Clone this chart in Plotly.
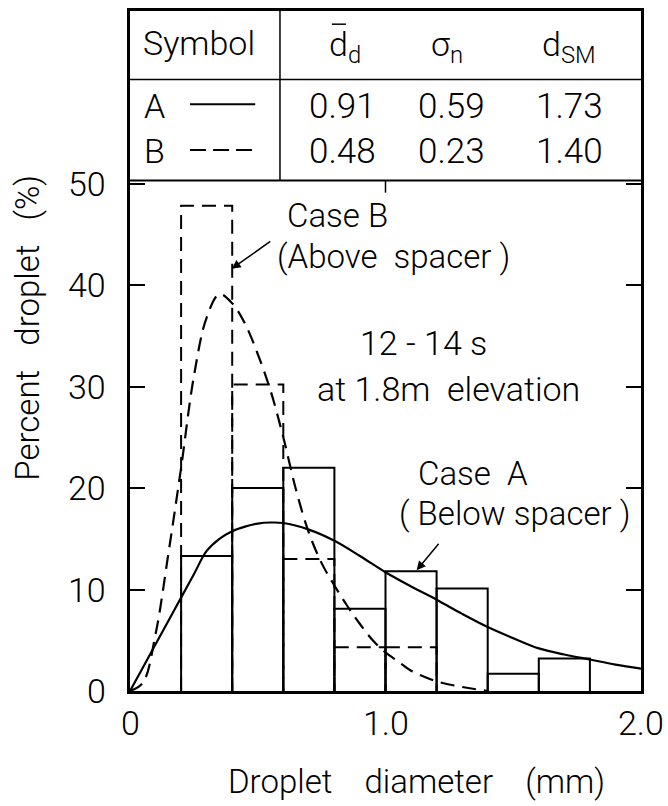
import plotly.graph_objects as go

# Histogram bin edges (mm)
bin_edges = [0.2, 0.4, 0.6, 0.8, 1.0, 1.2, 1.4, 1.6, 1.8, 2.0]
# Case A (below spacer): percent of droplets per bin, first bin 0.2-0.4 mm
case_a_pct = [13.3, 20.0, 22.0, 8.1, 11.8, 10.1, 1.7, 3.2]
# Case B (above spacer): percent of droplets per bin, first bin 0.2-0.4 mm
case_b_pct = [47.8, 30.2, 13.0, 4.3, 4.3]

# Fitted distribution, case A
fit_a_x = [0, 0.05, 0.1, 0.15, 0.2, 0.25, 0.3, 0.35, 0.4, 0.45, 0.5, 0.55, 0.6,
           0.7, 0.8, 0.9, 1.0, 1.1, 1.2, 1.3, 1.4, 1.5, 1.6, 1.7, 1.8, 1.9, 2.0]
fit_a_y = [0, 2.3, 4.6, 6.9, 9.2, 11.5, 13.8, 15.0, 15.75, 16.2, 16.5, 16.6, 16.55,
           15.9, 14.8, 13.3, 11.7, 10.3, 9.0, 7.6, 6.3, 5.2, 4.2, 3.6, 3.1, 2.6, 2.2]

# Fitted distribution, case B
fit_b_x = [0, 0.05, 0.1, 0.15, 0.2, 0.25, 0.3, 0.35, 0.4, 0.45, 0.5, 0.55, 0.6,
           0.65, 0.7, 0.75, 0.8, 0.85, 0.9, 0.95, 1.0, 1.05, 1.1, 1.2, 1.3, 1.4]
fit_b_y = [0, 0.8, 5.6, 13.5, 22.0, 31.0, 36.8, 39.1, 38.2, 36.2, 33.2, 29.6, 25.0,
           19.8, 15.6, 12.6, 10.4, 8.4, 6.6, 5.0, 3.8, 2.9, 2.0, 0.95, 0.4, 0.0]

# Summary table
symbols = ["A", "B"]
mean_d = [0.91, 0.48]
sigma_n = [0.59, 0.23]
d_sm = [1.73, 1.40]

# Axis tick labels
x_ticks = [0, 1, 2]
x_tick_text = ["0", "1.0", "2.0"]
y_ticks = [0, 10, 20, 30, 40, 50]

FONT = "Roboto, Liberation Sans, sans-serif"
INK = "black"

# plot area in pixels: left 130, right 641, top 8, bottom 691
PLOT_W, PLOT_H = 511, 683


def outline(heights):
    xs, ys = [], []
    for i, h in enumerate(heights):
        left, right = bin_edges[i], bin_edges[i + 1]
        xs += [left, left, right, right, None]
        ys += [0, h, h, 0, None]
    return xs, ys


fig = go.Figure()

bx, by = outline(case_b_pct)
fig.add_trace(go.Scatter(x=bx, y=by, mode="lines", hoverinfo="skip",
                         line=dict(color=INK, width=2, dash="14px,8px")))
ax, ay = outline(case_a_pct)
fig.add_trace(go.Scatter(x=ax, y=ay, mode="lines", hoverinfo="skip",
                         line=dict(color=INK, width=2)))
fig.add_trace(go.Scatter(x=fit_b_x, y=fit_b_y, mode="lines", line_shape="spline",
                         line=dict(color=INK, width=2.2, dash="14px,8px")))
fig.add_trace(go.Scatter(x=fit_a_x, y=fit_a_y, mode="lines", line_shape="spline",
                         line=dict(color=INK, width=2.2)))

# Table rules
table_bottom, header_rule, col_rule = 50.3, 60.25, 0.587
line_style = dict(color=INK, width=2)
shapes = [
    dict(type="line", xref="x", yref="y", x0=0, x1=2, y0=table_bottom, y1=table_bottom, line=line_style),
    dict(type="line", xref="x", yref="y", x0=0, x1=2, y0=header_rule, y1=header_rule, line=dict(color=INK, width=1.5)),
    dict(type="line", xref="x", yref="y", x0=col_rule, x1=col_rule, y0=table_bottom, y1=67, line=dict(color=INK, width=1.5)),
    # top-edge tick at 1.0 mm
    dict(type="line", xref="x", yref="y", x0=1.0, x1=1.0, y0=table_bottom, y1=table_bottom - 1.2, line=dict(color=INK, width=1.5)),
    # key lines
    dict(type="line", xref="x", yref="y", x0=0.235, x1=0.49, y0=57.8, y1=57.8, line=dict(color=INK, width=2)),
    dict(type="line", xref="x", yref="y", x0=0.235, x1=0.49, y0=53.3, y1=53.3, line=dict(color=INK, width=2, dash="16px,7px")),
    # bar over the mean-diameter symbol
    dict(type="line", xref="x", yref="y", x0=0.79, x1=0.845, y0=65.7, y1=65.7, line=dict(color=INK, width=1.5)),
]

ann = []


def text(x, y, s, size=34, **kw):
    ann.append(dict(x=x, y=y, xref="x", yref="y", text=s, showarrow=False,
                    font=dict(family=FONT, size=size, color=INK, weight=300), **kw))


# Header row
text(0.27, 63.8, "Symbol")
text(0.84, 63.5, "d<sub>d</sub>")
text(1.24, 63.5, "σ<sub>n</sub>")
text(1.72, 63.5, "d<sub>SM</sub>")
# Body rows
row_y = [57.6, 53.2]
for s, md, sg, sm, yy in zip(symbols, mean_d, sigma_n, d_sm, row_y):
    text(0.094, yy, s)
    text(0.83, yy, f"{md:.2f}", size=35)
    text(1.26, yy, f"{sg:.2f}", size=35)
    text(1.72, yy, f"{sm:.2f}", size=35)

# Curve labels
text(0.607, 46.9, "Case B", size=33, xanchor="left")
text(0.567, 42.8, "(Above\u00a0 spacer )", size=33, xanchor="left")
text(1.147, 34.3, "12 - 14 s")
text(1.245, 29.8, "at 1.8m\u00a0 elevation")
text(1.342, 21.4, "Case\u00a0 A", size=33)
text(1.503, 17.5, "( Below spacer )", size=33)

# Arrows
ann.append(dict(x=0.398, y=41.6, ax=0.555, ay=44.4, xref="x", yref="y", axref="x", ayref="y",
                text="", showarrow=True, arrowhead=2, arrowsize=1.2, arrowwidth=1.5, arrowcolor=INK))
ann.append(dict(x=1.122, y=11.9, ax=1.213, ay=14.65, xref="x", yref="y", axref="x", ayref="y",
                text="", showarrow=True, arrowhead=2, arrowsize=1.2, arrowwidth=1.5, arrowcolor=INK))

# Tick labels
tick_font = dict(family=FONT, size=34, color=INK, weight=300)
for v in y_ticks:
    ann.append(dict(x=-22 / PLOT_W, y=v, xref="paper", yref="y", xanchor="right", yanchor="middle",
                    text=str(v), showarrow=False, font=tick_font))
for v, t in zip(x_ticks, x_tick_text):
    ann.append(dict(x=v, y=-32 / PLOT_H, xref="x", yref="paper", xanchor="center", yanchor="middle",
                    text=t, showarrow=False, font=tick_font))

# Axis titles
ann.append(dict(x=-102 / PLOT_W, y=35.8, xref="paper", yref="y", xanchor="center", yanchor="middle",
                textangle=-90, showarrow=False,
                text="Percent\u00a0\u00a0 droplet\u00a0\u00a0 (%)",
                font=dict(family=FONT, size=33, color=INK, weight=300)))
ann.append(dict(x=(416 - 130) / PLOT_W, y=-112 / PLOT_H, xref="paper", yref="paper",
                xanchor="center", yanchor="bottom", showarrow=False,
                text="Droplet\u00a0\u00a0\u00a0 diameter\u00a0\u00a0\u00a0 (mm)",
                font=dict(family=FONT, size=33, color=INK, weight=300)))

fig.update_layout(
    width=668, height=806,
    margin=dict(l=130, r=27, t=8, b=115),
    paper_bgcolor="white", plot_bgcolor="white",
    showlegend=False,
    font=dict(family=FONT, color=INK),
    shapes=shapes, annotations=ann,
    xaxis=dict(range=[0, 2], showgrid=False, zeroline=False, showline=True, mirror=True,
               linecolor=INK, linewidth=2.5, ticks="", tickvals=x_ticks, showticklabels=False),
    yaxis=dict(range=[0, 67], showgrid=False, zeroline=False, showline=True, mirror="ticks",
               linecolor=INK, linewidth=2.5, ticks="inside", ticklen=15, tickwidth=1.5,
               tickcolor=INK, tickvals=y_ticks, showticklabels=False),
)

fig.write_html("out.html")
